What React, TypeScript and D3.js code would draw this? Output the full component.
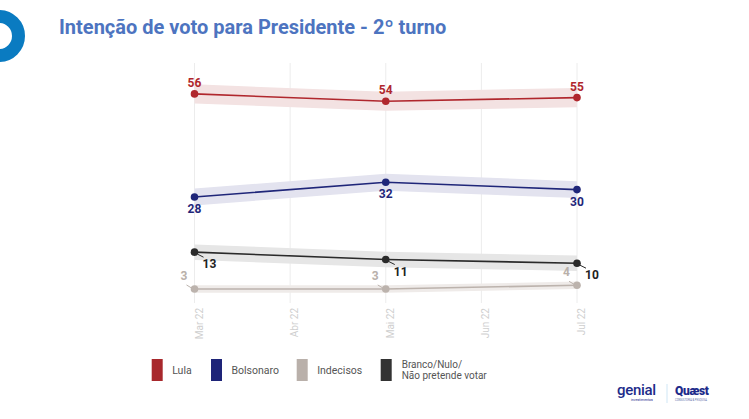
import React from "react";
import * as d3 from "d3";

const months = ["Mar 22", "Abr 22", "Mai 22", "Jun 22", "Jul 22"];
const pollDates = ["Mar 22", "Mai 22", "Jul 22"];
const lula = [56, 54, 55];
const bolsonaro = [28, 32, 30];
const branco = [13, 11, 10];
const indecisos = [3, 3, 4];
const margins = { lula: 2.6, bolsonaro: 2.3, branco: 2.1, indecisos: 1.0 };

const title = "Intenção de voto para Presidente - 2º turno";

const legendItems = [
  { label: ["Lula"], color: "#a8282c" },
  { label: ["Bolsonaro"], color: "#1e2478" },
  { label: ["Indecisos"], color: "#b9b0aa" },
  { label: ["Branco/Nulo/", "Não pretende votar"], color: "#333333" },
];

const W = 749;
const H = 419;
const FONT = "Roboto, 'Noto Sans', sans-serif";

export default function App() {
  const x = d3.scalePoint<string>().domain(months).range([194.5, 577]).padding(0);
  const y = d3.scaleLinear().domain([0, 60]).range([300, 79.2]);

  const series = [
    { key: "lula", values: lula, color: "#b0272d", band: "#f3e2e2", m: margins.lula, labelColor: "#b0272d", pos: "above" },
    { key: "bolsonaro", values: bolsonaro, color: "#1f2679", band: "#e3e3ef", m: margins.bolsonaro, labelColor: "#1f2679", pos: "below" },
    { key: "branco", values: branco, color: "#2a2a2a", band: "#e6e6e6", m: margins.branco, labelColor: "#222222", pos: "belowRight" },
    { key: "indecisos", values: indecisos, color: "#bcb3ad", band: "#efebe9", m: margins.indecisos, labelColor: "#b9b0aa", pos: "aboveLeft" },
  ];

  const line = d3
    .line<number>()
    .x((_, i) => x(pollDates[i]) as number)
    .y((d) => y(d));

  return (
    <svg
      width={W}
      height={H}
      style={{ position: "absolute", left: 0, top: 0, display: "block", background: "#fff" }}
      fontFamily={FONT}
    >
      {/* left logo ring */}
      <circle cx={-1} cy={36} r={19.5} fill="none" stroke="#0a7bc1" strokeWidth={13} />

      {/* title */}
      <text x={59} y={34} fontSize={20} fontWeight={700} fill="#4d74c0">
        {title}
      </text>

      {/* grid */}
      {months.map((mth) => (
        <line key={mth} x1={x(mth)} x2={x(mth)} y1={63} y2={303} stroke="#ececec" strokeWidth={1} />
      ))}

      {/* x labels */}
      {months.map((mth) => (
        <text
          key={"l" + mth}
          transform={`translate(${(x(mth) as number) + 8},308) rotate(-90)`}
          textAnchor="end"
          fontSize={10}
          fill="#cfcfcf"
        >
          {mth}
        </text>
      ))}

      {/* bands */}
      {series.map((s) => {
        const area = d3
          .area<number>()
          .x((_, i) => x(pollDates[i]) as number)
          .y0((d) => y(d - s.m))
          .y1((d) => y(d + s.m));
        return <path key={"b" + s.key} d={area(s.values) || ""} fill={s.band} />;
      })}

      {/* lines and points */}
      {series.map((s) => (
        <g key={"s" + s.key}>
          <path d={line(s.values) || ""} fill="none" stroke={s.color} strokeWidth={1.6} />
          {s.values.map((v, i) => (
            <circle key={i} cx={x(pollDates[i])} cy={y(v)} r={3.8} fill={s.color} />
          ))}
        </g>
      ))}

      {/* labels */}
      {series.map((s) =>
        s.values.map((v, i) => {
          const px = x(pollDates[i]) as number;
          const py = y(v);
          if (s.pos === "above") {
            return (
              <text key={s.key + i} x={px} y={py - 7} textAnchor="middle" fontSize={12} fontWeight={700} fill={s.labelColor}>
                {v}
              </text>
            );
          }
          if (s.pos === "below") {
            return (
              <text key={s.key + i} x={px} y={py + 16} textAnchor="middle" fontSize={12} fontWeight={700} fill={s.labelColor}>
                {v}
              </text>
            );
          }
          if (s.pos === "belowRight") {
            return (
              <g key={s.key + i}>
                <line x1={px + 3} y1={py + 2} x2={px + 9} y2={py + 5} stroke={s.color} strokeWidth={1} />
                <text x={px + 8} y={py + 16} textAnchor="start" fontSize={12} fontWeight={700} fill={s.labelColor}>
                  {v}
                </text>
              </g>
            );
          }
          return (
            <g key={s.key + i}>
              <line x1={px - 8} y1={py - 4} x2={px - 3} y2={py - 1} stroke={s.color} strokeWidth={1} />
              <text x={px - 7} y={py - 9} textAnchor="end" fontSize={12} fontWeight={700} fill={s.labelColor}>
                {v}
              </text>
            </g>
          );
        })
      )}

      {/* legend */}
      {legendItems.map((it, i) => {
        const lx = [151.7, 211, 296.7, 380.7][i];
        return (
          <g key={"lg" + i}>
            <rect x={lx} y={359} width={11} height={22} fill={it.color} />
            {it.label.length === 1 ? (
              <text x={lx + 20.5} y={374} fontSize={10.5} fill="#555">
                {it.label[0]}
              </text>
            ) : (
              <>
                <text x={lx + 21} y={367.5} fontSize={10} fill="#555">
                  {it.label[0]}
                </text>
                <text x={lx + 21} y={379} fontSize={10} fill="#555">
                  {it.label[1]}
                </text>
              </>
            )}
          </g>
        );
      })}

      {/* bottom-right logos */}
      <text x={617} y={395} fontSize={15} fontWeight={500} fill="#1d2b8a" letterSpacing={-0.3}>
        genial
      </text>
      <text x={631} y={401} fontSize={3.5} fill="#1d2b8a">
        investimentos
      </text>
      <line x1={667} x2={667} y1={384} y2={403} stroke="#cfe6f5" strokeWidth={1} />
      <text x={675} y={395} fontSize={12} fontWeight={900} fill="#1d2b8a" letterSpacing={-0.4}>
        Quæst
      </text>
      <text x={675} y={400.5} fontSize={2.6} fill="#5a6aa8">
        CONSULTORIA &amp; PESQUISA
      </text>
    </svg>
  );
}
